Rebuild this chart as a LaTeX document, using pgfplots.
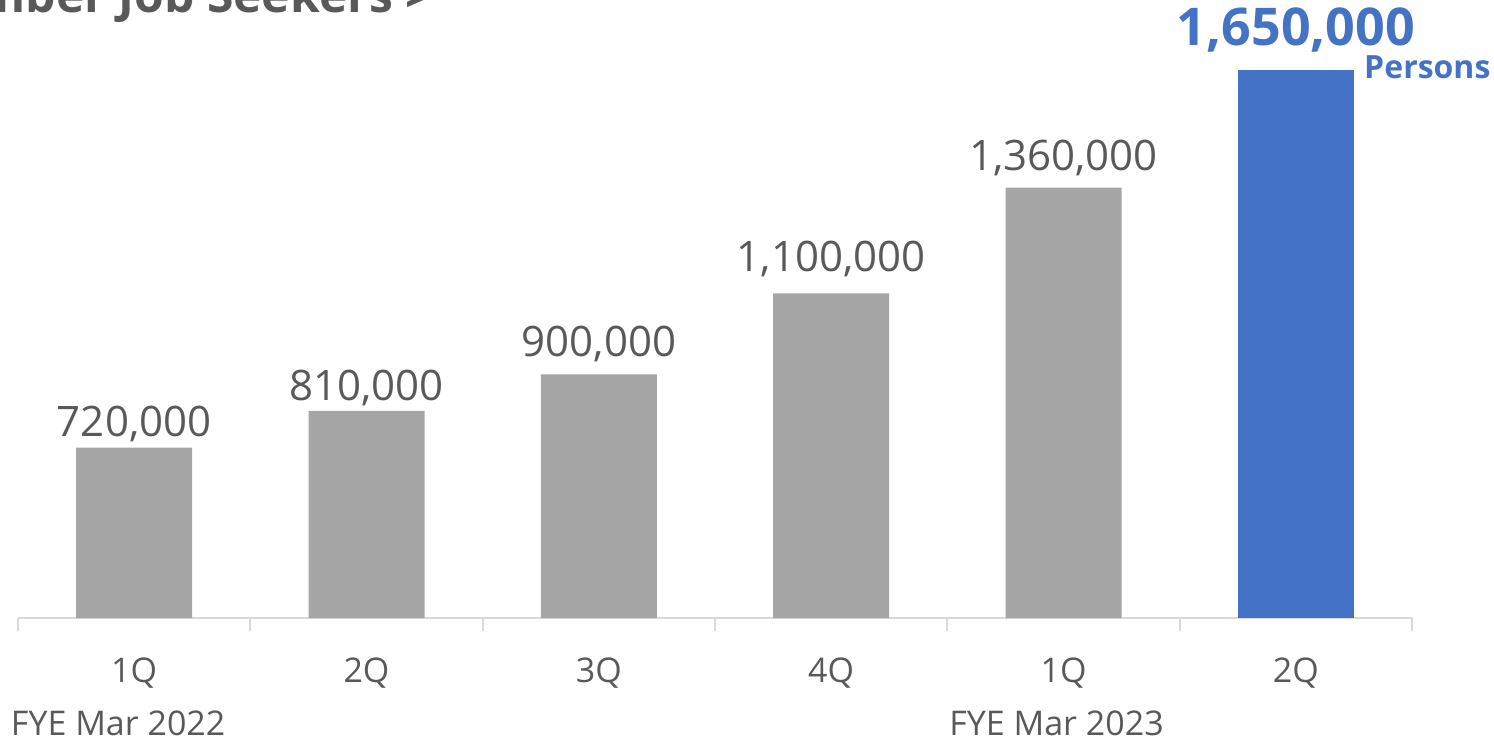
\documentclass[border=0pt]{standalone}
\usepackage{fontspec}
\setmainfont{Open Sans}
\usepackage{pgfplots}
\pgfplotsset{compat=1.18}
\definecolor{barGray}{HTML}{A5A5A5}
\definecolor{barBlue}{HTML}{4472C4}
\definecolor{txtGray}{HTML}{595959}
\definecolor{lineGray}{HTML}{D9D9D9}
\tikzset{lbl/.style={anchor=base, font=\fontsize{21}{24}\selectfont, text=txtGray, inner sep=0pt}}
\begin{document}
\begin{tikzpicture}
\begin{axis}[name=ax, scale only axis, width=697pt, height=309pt,
  xmin=-0.5, xmax=5.5, ymin=300000, ymax=1822500,
  ybar, bar width=58pt, bar shift=0pt,
  hide y axis, axis x line*=bottom,
  axis line style={draw=lineGray, line width=1pt, -},
  xtick={0,...,5}, xticklabels={1Q,2Q,3Q,4Q,1Q,2Q},
  major tick length=0pt,
  minor xtick={-0.5,0.5,...,5.5}, minor tick length=6.5pt, tick align=outside,
  minor tick style={draw=lineGray, line width=1pt},
  major tick style={draw=none},
  xticklabel style={font=\fontsize{17}{20}\selectfont, text=txtGray, anchor=base, yshift=-32pt},
  clip=false,
]
\addplot[fill=barGray, draw=none]
  coordinates {(0,720000) (1,810000) (2,900000) (3,1100000) (4,1360000)};
\addplot[fill=barBlue, draw=none]
  coordinates {(5,1650000)};
\node[lbl, yshift=5.5pt] at (axis cs:0,720000) {720,000};
\node[lbl, yshift=5pt] at (axis cs:1,810000) {810,000};
\node[lbl, yshift=9pt] at (axis cs:2,900000) {900,000};
\node[lbl, yshift=11pt] at (axis cs:3,1100000) {1,100,000};
\node[lbl, yshift=8.5pt] at (axis cs:4,1360000) {1,360,000};
\node[anchor=base, inner sep=0pt, font=\fontsize{26}{30}\selectfont\bfseries, text=barBlue, yshift=12.5pt] at (axis cs:5,1650000) {1,650,000};
\node[anchor=base west, inner sep=0pt, font=\fontsize{16}{20}\selectfont\bfseries, text=barBlue, xshift=34pt, yshift=-4pt] at (axis cs:5,1650000) {Persons};
\node[anchor=base, inner sep=0pt, font=\fontsize{17}{20}\selectfont, text=txtGray] at ([xshift=-8pt, yshift=-58.5pt]axis cs:0,300000) {FYE Mar 2022};
\node[anchor=base, inner sep=0pt, font=\fontsize{17}{20}\selectfont, text=txtGray] at ([xshift=-3.5pt, yshift=-58.5pt]axis cs:4,300000) {FYE Mar 2023};
\end{axis}
\node[anchor=base east, font=\fontsize{24}{28}\selectfont\bfseries, text=txtGray] at ([xshift=211pt, yshift=-6pt]ax.north west) {< Member Job Seekers >};
\pgfresetboundingbox
\path[use as bounding box] ([xshift=-9pt, yshift=-61.5pt]ax.south west) rectangle ([xshift=41pt]ax.north east);
\end{tikzpicture}
\end{document}
